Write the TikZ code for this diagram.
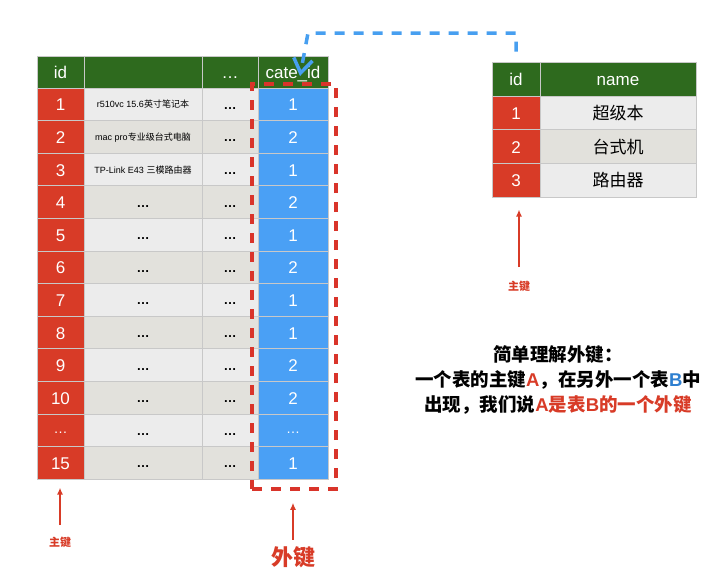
\documentclass[tikz,border=0pt]{standalone}
\usepackage{fontspec}
\setmainfont{Liberation Sans}
\newfontfamily\cjk{Noto Sans CJK SC}
\usepackage{xcolor}
\usetikzlibrary{arrows.meta,positioning,calc}

\definecolor{hdgreen}{HTML}{2E6A1E}
\definecolor{pkred}{HTML}{D83B27}
\definecolor{fkblue}{HTML}{4AA0F5}
\definecolor{noteblue}{HTML}{2E7FD0}
\definecolor{rowlight}{HTML}{ECECEC}
\definecolor{rowdark}{HTML}{E2E1DC}
\definecolor{gridgray}{HTML}{C8C8C8}
\definecolor{dashred}{HTML}{D9342A}
\definecolor{linkblue}{HTML}{479FF0}

\newcommand{\ddd}{{\bfseries\fontsize{13}{13}\selectfont …}}
\newcommand{\wdd}{{\fontsize{14}{14}\selectfont\raisebox{3pt}{…}}}

\begin{document}
\begin{tikzpicture}[x=1pt,y=-1pt,>=Latex,
  cell/.style={draw=gridgray,line width=0.8pt,inner sep=0pt,minimum height=32.6pt},
  head/.style={cell,fill=hdgreen,text=white,font=\fontsize{17}{17}\selectfont,text height=13pt,text depth=0pt},
  pkcell/.style={cell,fill=pkred,text=white,font=\fontsize{17}{17}\selectfont,text height=13pt,text depth=0pt},
  fkcell/.style={cell,fill=fkblue,text=white,font=\fontsize{17}{17}\selectfont,text height=13pt,text depth=0pt},
  txtcell/.style={cell,text=black,font=\fontsize{9}{9}\selectfont,text height=7pt,text depth=0pt},
  dotcell/.style={cell,text=black,text height=10pt,text depth=0pt},
  fkbox/.style={draw=dashred,line width=3.5pt,dash pattern=on 10pt off 9pt,minimum width=84pt,minimum height=405pt,inner sep=0pt},
  link/.style={draw=linkblue,line width=3.5pt,dash pattern=on 10pt off 9pt},
  pkarrow/.style={draw=pkred,line width=1.5pt,-{Latex[length=7pt,width=6pt]}},
  keylabel/.style={text=pkred,font=\cjk\bfseries\fontsize{11}{11}\selectfont}]

\fill[white] (0,0) rectangle (720,574);
\useasboundingbox (0,0) rectangle (720,574);

% goods table
\node[head,minimum width=47pt,minimum height=32pt] (id0) at (60.5,72) {id};
\node[head,minimum width=118pt,minimum height=32pt] (nm0) at (143,72) {};
\node[head,minimum width=56pt,minimum height=32pt] (dt0) at (230,72) {…};
\node[head,minimum width=70pt,minimum height=32pt] (fk0) at (293,72) {cate\_id};

\foreach \r/\k/\t/\v in {
  1/1/{r510vc 15.6{\cjk 英寸笔记本}}/1,
  2/2/{mac pro{\cjk 专业级台式电脑}}/2,
  3/3/{TP-Link E43 {\cjk 三模路由器}}/1,
  4/4/\ddd/2, 5/5/\ddd/1, 6/6/\ddd/2, 7/7/\ddd/1,
  8/8/\ddd/1, 9/9/\ddd/2, 10/10/\ddd/2, 11/\wdd/\ddd/\wdd, 12/15/\ddd/1} {
  \pgfmathsetmacro{\yy}{88+(\r-0.5)*32.6}
  \edef\rowfill{\ifodd\r rowlight\else rowdark\fi}
  \node[pkcell,minimum width=47pt] (id\r) at (60.5,\yy) {\k};
  \ifnum\r<4
    \node[txtcell,fill=\rowfill,minimum width=118pt] (nm\r) at (143,\yy) {\t};
  \else
    \node[dotcell,fill=\rowfill,minimum width=118pt] (nm\r) at (143,\yy) {\t};
  \fi
  \node[dotcell,fill=\rowfill,minimum width=56pt] (dt\r) at (230,\yy) {\ddd};
  \node[fkcell,minimum width=70pt] (fk\r) at (293,\yy) {\v};
}

% category table
\node[head,minimum width=48pt,minimum height=34pt] (rid0) at (516,79) {id};
\node[head,minimum width=156pt,minimum height=34pt] (rnm0) at (618,79) {name};
\foreach \r/\n in {1/超级本, 2/台式机, 3/路由器} {
  \pgfmathsetmacro{\yy}{96+(\r-0.5)*33.7}
  \edef\rowfill{\ifodd\r rowlight\else rowdark\fi}
  \node[pkcell,minimum width=48pt,minimum height=33.7pt] (rid\r) at (516,\yy) {\r};
  \node[txtcell,fill=\rowfill,minimum width=156pt,minimum height=33.7pt,font=\cjk\fontsize{17}{17}\selectfont,text height=13pt] (rnm\r) at (618,\yy) {\n};
}

% keys
\node[fkbox] (fkbox) at (294,286.5) {};
\coordinate (bend) at (308,33);
\coordinate (fktip) at (300,76);
\draw[link,-{Straight Barb[length=14pt,width=19pt]}] ([yshift=10pt]rid0.north) |- (bend) -- (fktip);

\node[keylabel] (pkl) at (60,542) {主键};
\draw[pkarrow] ([yshift=8pt]pkl.north) -- ([yshift=-8pt]pkl.north |- id12.south);
\node[keylabel] (pkr) at (519,286) {主键};
\draw[pkarrow] ([yshift=10pt]pkr.north) -- ([yshift=-12pt]pkr.north |- rid3.south);
\node[text=pkred,font=\cjk\bfseries\fontsize{22}{22}\selectfont] (fkl) at (293,557) {外键};
\draw[pkarrow] ([yshift=3pt]fkl.north) -- ([yshift=-12pt]fkl.north |- fkbox.south);

\node[align=center,font=\bfseries\fontsize{18.5}{25}\selectfont] (note) at (558,380)
  {{\cjk 简单理解外键：}\\
   {\cjk 一个表的主键}\textcolor{pkred}{A}{\cjk ，在另外一个表}\textcolor{noteblue}{B}{\cjk 中}\\
   {\cjk 出现，我们说}\textcolor{pkred}{A{\cjk 是表}B{\cjk 的一个外键}}};
\end{tikzpicture}
\end{document}
